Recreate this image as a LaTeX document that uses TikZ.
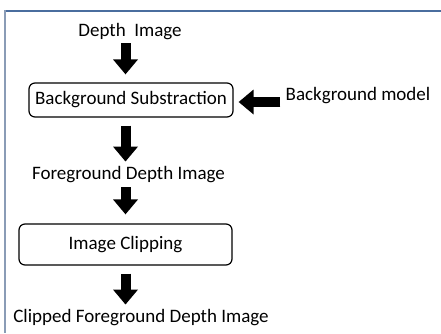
\documentclass[tikz,border=0pt]{standalone}
\usepackage{fontspec}
\setmainfont{Carlito}
\usetikzlibrary{arrows.meta}
\definecolor{topframe}{HTML}{4A6D9E}
\definecolor{leftframe}{HTML}{8A9CB6}
\begin{document}
\begin{tikzpicture}[x=1pt,y=1pt,
  lbl/.style={inner sep=0pt, font=\fontsize{19}{22}\selectfont},
  proc/.style={draw, line width=1.2pt, rounded corners=6pt, inner sep=0pt, font=\fontsize{19}{22}\selectfont},
  blk/.style={line width=10pt, -{Triangle[width=24pt,length=15pt]}}
]
\useasboundingbox (0,0) rectangle (441,-333);
\fill[white] (0,0) rectangle (441,-333);
% frame
\draw[topframe, line width=2.5pt] (4,-11) -- (441,-11);
\draw[leftframe, line width=2.5pt] (5,-10) -- (5,-333);

\node[lbl] (d1) at (130,-32) {Depth\ \ Image};
\node[proc, minimum width=204pt, minimum height=34pt] (b1) at (131,-100) {Background Substraction};
\node[lbl] (bm) at (358,-96) {Background model};
\node[lbl] (fg) at (128.5,-175) {Foreground Depth Image};
\node[proc, minimum width=213pt, minimum height=41pt] (b2) at (125.5,-244.5) {Image Clipping};
\node[lbl] (cf) at (141,-318) {Clipped Foreground Depth Image};

\coordinate (ax) at (125.5,0);
\draw[blk] ([yshift=-3pt]d1.south -| ax) -- ([yshift=8pt]b1.north -| ax);
\draw[blk] ([yshift=-8pt]b1.south -| ax) -- ([yshift=5pt]fg.north -| ax);
\draw[blk] ([yshift=-4pt]fg.south -| ax) -- ([yshift=9pt]b2.north -| ax);
\draw[blk] ([yshift=-8pt]b2.south -| ax) -- ([yshift=5pt]cf.north -| ax);
\draw[blk] ([xshift=-5pt]bm.west |- 0,-102) -- ([xshift=5pt]b1.east |- 0,-102);
\end{tikzpicture}
\end{document}
